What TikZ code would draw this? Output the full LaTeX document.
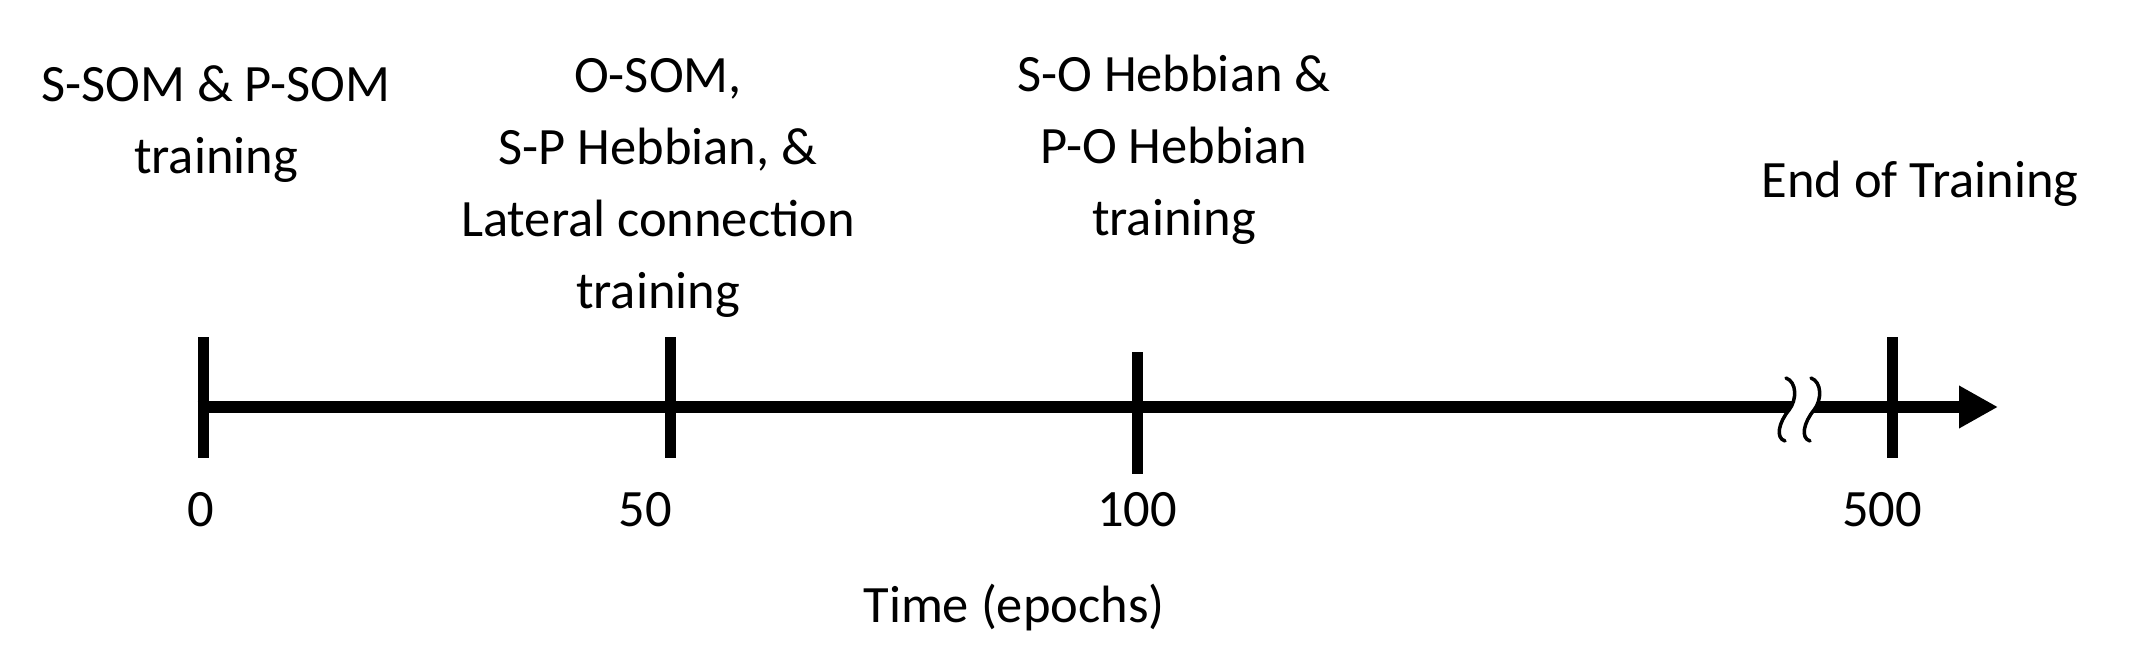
\documentclass[tikz,border=0pt]{standalone}
\usepackage{fontspec}
\setmainfont{Carlito}
\usetikzlibrary{arrows.meta}
\begin{document}
\begin{tikzpicture}[x=1pt,y=-1pt,
  lbl/.style={inner sep=0pt, align=center, font=\fontsize{52.5}{72}\selectfont, anchor=base},
  axisline/.style={line width=12pt},
  tickline/.style={line width=11pt},
  brk/.style={line width=3.5pt, line cap=round}]
\useasboundingbox (0,0) rectangle (2133,671);
% axis
\coordinate (ax0) at (197.5,407);
\coordinate (axE) at (1998,407);
\draw[axisline,-{Triangle[length=39pt,width=40pt]}] (ax0) -- (axE);
% ticks
\coordinate (t0a) at (203,337);  \coordinate (t0b) at (203,458);
\coordinate (t50a) at (670,337); \coordinate (t50b) at (670,458);
\coordinate (t100a) at (1137,352); \coordinate (t100b) at (1137,474);
\coordinate (t500a) at (1892,337); \coordinate (t500b) at (1892,458);
\draw[tickline] (t0a) -- (t0b);
\draw[tickline] (t50a) -- (t50b);
\draw[tickline] (t100a) -- (t100b);
\draw[tickline] (t500a) -- (t500b);
% break mark
\fill[white] (1786,378) .. controls (1797,382) and (1797,400) .. (1789,410)
   .. controls (1779,422) and (1775,438) .. (1785,441)
   -- (1810,441) .. controls (1800,438) and (1804,422) .. (1814,410)
   .. controls (1822,400) and (1822,382) .. (1811,378) -- cycle;
\draw[brk] (1786,378) .. controls (1797,382) and (1797,400) .. (1789,410)
   .. controls (1779,422) and (1775,438) .. (1785,441);
\draw[brk] (1811,378) .. controls (1822,382) and (1822,400) .. (1814,410)
   .. controls (1804,422) and (1800,438) .. (1810,441);
% labels
\node[lbl] (l0) at (201,526) {0};
\node[lbl] (l50) at (645,526) {50};
\node[lbl] (l100) at (1137,526) {100};
\node[lbl] (l500) at (1882,526) {500};
\node[lbl] (time) at (1014,622) {Time (epochs)};
\node[lbl] (endtr) at (1920,197) {End of Training};
\node[lbl] (phaseA) at (216,174) {S-SOM \& P-SOM\\training};
\node[lbl] (phaseB) at (658,308) {O-SOM,\\S-P Hebbian, \&\\Lateral connection\\training};
\node[lbl] (phaseC) at (1174,236) {S-O Hebbian \&\\P-O Hebbian\\training};
\end{tikzpicture}
\end{document}
